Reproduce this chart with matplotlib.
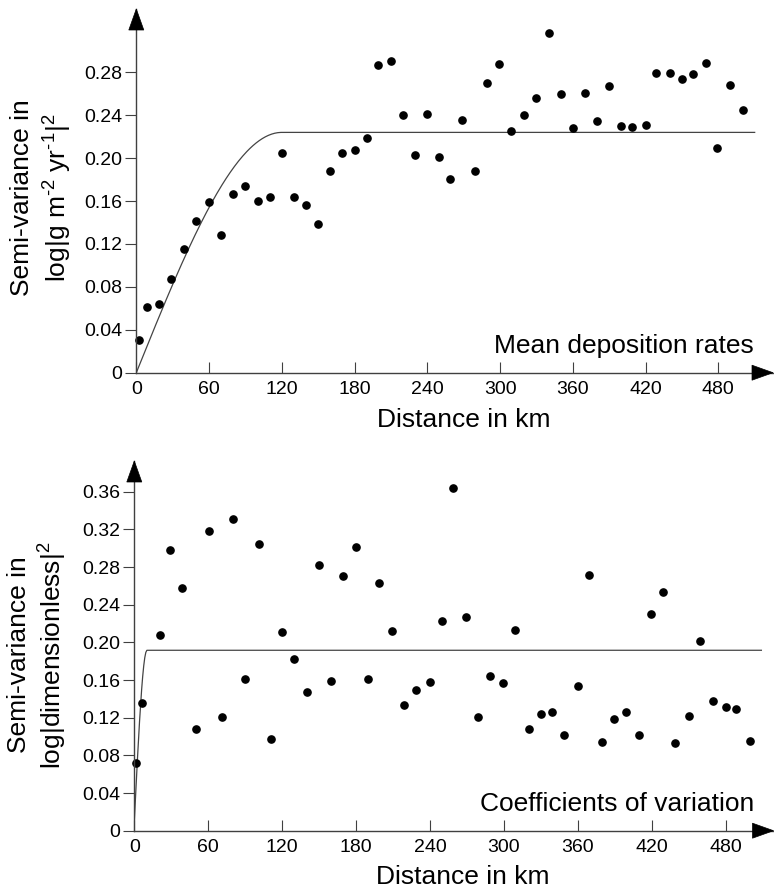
import numpy as np
import matplotlib.pyplot as plt
from matplotlib.patches import Polygon

plt.rcParams['font.family'] = ['Liberation Sans', 'DejaVu Sans']
plt.rcParams['mathtext.fontset'] = 'custom'
plt.rcParams['mathtext.rm'] = 'Liberation Sans'
plt.rcParams['mathtext.it'] = 'Liberation Sans:italic'
plt.rcParams['mathtext.bf'] = 'Liberation Sans:bold'

# ---------------------------------------------------------
# Datos: semivariogramas empíricos
# ---------------------------------------------------------
dist_top = [2, 9, 19, 29, 39, 49, 60, 70, 80, 90, 100, 110, 120, 130, 140, 150,
            160, 170, 180, 190, 199, 210, 220, 230, 240, 250, 259, 269, 279, 289,
            299, 309, 320, 330, 340, 350, 360, 370, 380, 390, 400, 409, 420, 429,
            440, 450, 459, 470, 479, 490, 500]
gamma_top = [0.0305, 0.0615, 0.064, 0.087, 0.1156, 0.1414, 0.1588, 0.128, 0.167,
             0.1743, 0.1603, 0.1635, 0.205, 0.1635, 0.1566, 0.139, 0.188, 0.2045,
             0.208, 0.2188, 0.287, 0.291, 0.2405, 0.2026, 0.2414, 0.2008, 0.181,
             0.2355, 0.1877, 0.2697, 0.2877, 0.2253, 0.2405, 0.2564, 0.3164, 0.26,
             0.2284, 0.261, 0.2346, 0.267, 0.23, 0.2293, 0.2312, 0.2794, 0.2794,
             0.274, 0.2787, 0.2884, 0.2097, 0.2679, 0.2452]

dist_bot = [1, 6, 21, 29, 39, 50, 61, 71, 80, 90, 101, 111, 120, 130, 140, 150,
            160, 169, 180, 190, 199, 209, 219, 229, 240, 250, 259, 269, 279, 289,
            299, 309, 320, 330, 339, 349, 360, 369, 380, 389, 399, 410, 419, 429,
            439, 450, 459, 470, 480, 488, 500]
gamma_bot = [0.0722, 0.1353, 0.2078, 0.2984, 0.2574, 0.1083, 0.3179, 0.1211,
             0.3313, 0.1614, 0.3041, 0.0977, 0.211, 0.1823, 0.147, 0.2822, 0.159,
             0.2708, 0.301, 0.1608, 0.2627, 0.2124, 0.1335, 0.1494, 0.1582,
             0.2227, 0.3642, 0.2269, 0.1211, 0.164, 0.1572, 0.2131, 0.1083,
             0.1239, 0.126, 0.1013, 0.1537, 0.2715, 0.0942, 0.1183, 0.126, 0.1013,
             0.2298, 0.2532, 0.0931, 0.1221, 0.2018, 0.138, 0.131, 0.1292, 0.0949]

# modelo esférico: (pepita, meseta, alcance, distancia final)
model_top = (0.0, 0.224, 120.0, 510.0)
model_bot = (0.01, 0.1916, 10.3, 509.0)

x_ticks = [0, 60, 120, 180, 240, 300, 360, 420, 480]
y_ticks_top = [0, 0.04, 0.08, 0.12, 0.16, 0.20, 0.24, 0.28]
y_ticks_bot = [0, 0.04, 0.08, 0.12, 0.16, 0.20, 0.24, 0.28, 0.32, 0.36]


def esferico(h, c0, c, a):
    h = np.asarray(h)
    g = c0 + (c - c0) * (1.5 * h / a - 0.5 * (h / a) ** 3)
    return np.where(h < a, g, c)


W, H = 774, 893
fig = plt.figure(figsize=(W / 100, H / 100), dpi=100)

AX_COLOR = '#404040'


def flecha(px, py, direction):
    # triángulo en pixeles (origen arriba-izquierda)
    L, w = 21, 7.5
    if direction == 'up':
        pts = [(px, py), (px - w, py + L), (px + w, py + L)]
    else:
        pts = [(px, py), (px - L, py - w), (px - L, py + w)]
    pts = [(x / W, 1 - y / H) for x, y in pts]
    fig.patches.append(Polygon(pts, closed=True, transform=fig.transFigure,
                               facecolor='black', edgecolor='black', lw=0.5))


def panel(rect_px, xmax, ymax, dist, gamma, model, yticks, title):
    x0, y_bot, x1, y_top = rect_px
    ax = fig.add_axes([x0 / W, 1 - y_bot / H, (x1 - x0) / W, (y_bot - y_top) / H])
    ax.set_xlim(0, xmax)
    ax.set_ylim(0, ymax)
    for s in ['top', 'right']:
        ax.spines[s].set_visible(False)
    for s in ['left', 'bottom']:
        ax.spines[s].set_color(AX_COLOR)
        ax.spines[s].set_linewidth(1.0)
    ax.set_xticks(x_ticks)
    ax.set_yticks(yticks)
    ax.set_yticklabels(['0'] + ['%.2f' % v for v in yticks[1:]])
    ax.tick_params(axis='x', direction='in', length=8, color=AX_COLOR,
                   labelsize=14, pad=6)
    ax.tick_params(axis='y', direction='out', length=8, color=AX_COLOR,
                   labelsize=14, pad=2)

    c0, c, a, hend = model
    h = np.linspace(0, hend, 600)
    ax.plot(h, esferico(h, c0, c, a), color='#444444', lw=0.9)
    ax.plot(dist, gamma, 'o', color='black', ms=5.2, clip_on=False)

    ax.text(0.97, 0.04, title, transform=ax.transAxes, ha='right',
            va='bottom', fontsize=19)
    flecha(x0, y_top, 'up')
    flecha(x1, y_bot, 'right')
    return ax


panel((136.3, 372.7, 773, 9), (773 - 136.3) / 1.2125, (372.7 - 9) / 1072.8,
      dist_top, gamma_top, model_top, y_ticks_top, 'Mean deposition rates')
panel((134.3, 830.7, 773.5, 461), (773.5 - 134.3) / 1.232, (830.7 - 461) / 941.7,
      dist_bot, gamma_bot, model_bot, y_ticks_bot, 'Coefficients of variation')

fig.text(464 / W, 1 - 420 / H, 'Distance in km', ha='center', va='center',
         fontsize=19)
fig.text(463 / W, 1 - 877 / H, 'Distance in km', ha='center', va='center',
         fontsize=19)
fig.text(42 / W, 1 - 198 / H,
         'Semi-variance in\nlog|g m$^{\\text{-2}}$ yr$^{\\text{-1}}$|$^{2}$',
         ha='center', va='center', rotation=90, fontsize=19, linespacing=1.35)
fig.text(38 / W, 1 - 655 / H,
         'Semi-variance in\nlog|dimensionless|$^{2}$',
         ha='center', va='center', rotation=90, fontsize=19, linespacing=1.25)

fig.savefig('out.png', dpi=100)
